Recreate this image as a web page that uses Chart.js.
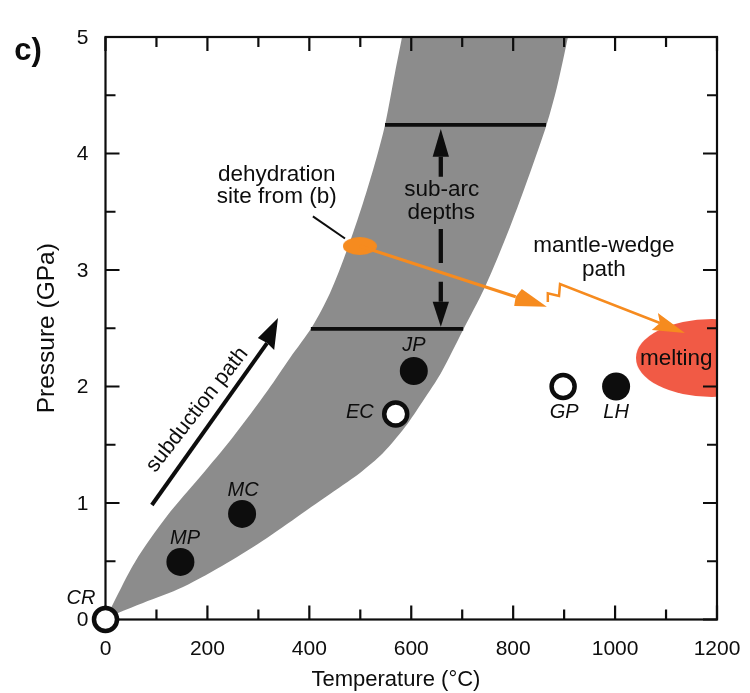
<!DOCTYPE html>
<html>
<head>
  <meta charset="UTF-8" />
  <title>Subduction path</title>
  <script src="https://cdn.jsdelivr.net/npm/chart.js"></script>
  <style>
    html, body { margin: 0; padding: 0; background: #fff; }
    canvas { display: block; }
  </style>
</head>
<body>
  <canvas id="PathChart" width="750" height="693"></canvas>

  <script>
    // everything below is [temperature, pressure]
    // the band runs a little past 5 GPa so its top corners fall outside the plot
    const band_left = [[0,0],[14.7,0.133],[57.9,0.494],[120.7,0.888],[185.4,1.223],[250.2,1.567],[318.9,1.97],[362,2.245],[405.2,2.511],[440.6,2.803],[473.9,3.172],[505.3,3.575],[528.9,3.918],[548.5,4.245],[568,4.691],[581.9,5],[585.8,5.103]];
    const band_right = [[912.5,5.103],[907.6,5],[886,4.571],[865.4,4.245],[833,3.833],[793.8,3.369],[744.7,2.854],[701.6,2.485],[658.4,2.116],[623,1.876],[587.8,1.652],[544.6,1.429],[499.4,1.258],[466,1.155],[395.4,0.94],[316.9,0.7],[238.4,0.485],[152.1,0.279],[73.6,0.142],[24.5,0.056],[0,0]];

    const filled_sites = [[147,0.494],[268,0.906],[605,2.133],[1002,2.0]];
    const open_sites = [[0,0],[569.5,1.764],[898,2.0]];
    const dehydration_site = [[499,3.206]];
    const melting_zone = [[1190,2.245]];

    const subarc_low = [[403,2.494],[702,2.494]];
    const subarc_high = [[548.5,4.245],[864.5,4.245]];

    const subarc_stem_a = [[658,3.973],[658,3.8]];
    const subarc_stem_b = [[658,3.352],[658,3.06]];
    const subarc_stem_c = [[658,2.9],[658,2.728]];
    const subarc_head_up = [[642,3.973],[674,3.973],[658,4.21]];
    const subarc_head_down = [[642,2.728],[674,2.728],[658,2.513]];

    const subduction_stem = [[91,0.983],[317,2.373]];
    const subduction_head = [[338.5,2.588],[299,2.416],[317,2.373],[331,2.313]];

    const leader_line = [[407,3.46],[470,3.27]];
    const orange_path_a = [[499,3.206],[805,2.77]];
    const orange_head_a = [[866,2.685],[817,2.837],[805,2.77],[802,2.69]];
    const orange_path_b = [[868,2.725],[868,2.8],[890,2.777],[892,2.88],[1088,2.545]];
    const orange_head_b = [[1137,2.459],[1084,2.631],[1088,2.545],[1072,2.485]];

    const x_title = 'Temperature (°C)';
    const y_title = 'Pressure (GPa)';

    const ink = '#0d0d0d';
    const orange = '#f68b1f';
    const font_name = '"Liberation Sans", Arial, sans-serif';

    function to_xy(points) {
      return points.map(p => ({ x: p[0], y: p[1] }));
    }

    function line_set(points, color, width) {
      return { data: to_xy(points), showLine: true, borderColor: color, borderWidth: width, pointRadius: 0, fill: false };
    }

    function shape_set(points, color, tension) {
      return {
        data: to_xy(points), showLine: true, borderWidth: 0, borderColor: color, backgroundColor: color,
        pointRadius: 0, fill: 'shape', tension: tension || 0,
      };
    }

    function ellipse_style(rx, ry, color) {
      const c = document.createElement('canvas');
      c.width = rx * 2;
      c.height = ry * 2;
      const g = c.getContext('2d');
      g.fillStyle = color;
      g.beginPath();
      g.ellipse(rx, ry, rx, ry, 0, 0, Math.PI * 2);
      g.fill();
      return c;
    }

    function ellipse_set(points, rx, ry, color) {
      return { data: to_xy(points), showLine: false, pointRadius: 1, pointStyle: ellipse_style(rx, ry, color) };
    }

    // notes sit in data coordinates, so they follow the axes
    const notes = [
      { text: 'dehydration', x: 336, y: 3.815, size: 22.5 },
      { text: 'site from (b)', x: 336, y: 3.627, size: 22.5 },
      { text: 'sub-arc', x: 660, y: 3.69, size: 22.5 },
      { text: 'depths', x: 659, y: 3.49, size: 22.5 },
      { text: 'mantle-wedge', x: 978, y: 3.206, size: 22.5 },
      { text: 'path', x: 978, y: 3.0, size: 22.5 },
      { text: 'melting', x: 1120, y: 2.236, size: 22.5 },
      { text: 'subduction path', x: 180, y: 1.8, size: 21.5, angle: -52 },
      { text: 'CR', x: -48, y: 0.185, size: 20, italic: true },
      { text: 'MP', x: 156, y: 0.7, size: 20, italic: true },
      { text: 'MC', x: 270, y: 1.11, size: 20, italic: true },
      { text: 'JP', x: 605, y: 2.356, size: 20, italic: true },
      { text: 'EC', x: 499, y: 1.78, size: 20, italic: true },
      { text: 'GP', x: 900, y: 1.78, size: 20, italic: true },
      { text: 'LH', x: 1002, y: 1.78, size: 20, italic: true },
    ];

    const datasets = [
      // first in the list is drawn on top
      { data: to_xy(open_sites), pointRadius: 11.5, pointBorderWidth: 4.5, pointBorderColor: ink, pointBackgroundColor: '#ffffff', clip: false },
      { data: to_xy(filled_sites), pointRadius: 14, pointBorderWidth: 0, pointBackgroundColor: ink },
      shape_set(orange_head_b, orange),
      shape_set(orange_head_a, orange),
      line_set(orange_path_b, orange, 2.5),
      line_set(orange_path_a, orange, 3),
      ellipse_set(dehydration_site, 17, 9, orange),
      line_set(leader_line, ink, 2),
      shape_set(subduction_head, ink),
      line_set(subduction_stem, ink, 4),
      shape_set(subarc_head_down, ink),
      shape_set(subarc_head_up, ink),
      line_set(subarc_stem_c, ink, 4.3),
      line_set(subarc_stem_b, ink, 4.3),
      line_set(subarc_stem_a, ink, 4.3),
      line_set(subarc_high, ink, 3.8),
      line_set(subarc_low, ink, 3.8),
      ellipse_set(melting_zone, 76, 39, '#f15a45'),
      shape_set(band_left.concat(band_right), '#8c8c8c', 0.3),
    ];
    const frame_after = datasets.length - 2;

    function draw_frame(chart) {
      const { ctx, chartArea: a, scales } = chart;
      ctx.save();
      ctx.strokeStyle = ink;
      ctx.lineWidth = 2.2;
      ctx.strokeRect(a.left, a.top, a.right - a.left, a.bottom - a.top);
      scales.x.ticks.forEach(t => {
        const px = scales.x.getPixelForValue(t.value);
        const len = t.value % 200 === 0 ? 14 : 10;
        ctx.beginPath();
        ctx.moveTo(px, a.bottom); ctx.lineTo(px, a.bottom - len);
        ctx.moveTo(px, a.top); ctx.lineTo(px, a.top + len);
        ctx.stroke();
      });
      scales.y.ticks.forEach(t => {
        const py = scales.y.getPixelForValue(t.value);
        const len = t.value % 1 === 0 ? 14 : 10;
        ctx.beginPath();
        ctx.moveTo(a.left, py); ctx.lineTo(a.left + len, py);
        ctx.moveTo(a.right, py); ctx.lineTo(a.right - len, py);
        ctx.stroke();
      });
      ctx.restore();
    }

    const annotate = {
      id: 'annotate',
      afterDatasetDraw(chart, args) {
        if (args.index === frame_after) draw_frame(chart);
      },
      afterDatasetsDraw(chart) {
        const { ctx, scales } = chart;
        ctx.save();
        ctx.fillStyle = ink;
        ctx.textAlign = 'center';
        ctx.textBaseline = 'middle';
        notes.forEach(n => {
          ctx.save();
          ctx.translate(scales.x.getPixelForValue(n.x), scales.y.getPixelForValue(n.y));
          if (n.angle) ctx.rotate(n.angle * Math.PI / 180);
          ctx.font = (n.italic ? 'italic ' : '') + n.size + 'px ' + font_name;
          ctx.fillText(n.text, 0, 0);
          ctx.restore();
        });
        ctx.font = 'bold 31px ' + font_name;
        ctx.fillText('c)', 28, 51);
        ctx.restore();
      },
    };

    new Chart(document.getElementById('PathChart').getContext('2d'), {
      type: 'scatter',
      data: { datasets: datasets },
      plugins: [annotate],
      options: {
        responsive: false,
        animation: false,
        events: [],
        layout: { padding: { top: 37, right: 33, left: 0, bottom: 0 } },
        plugins: { legend: { display: false }, tooltip: { enabled: false } },
        scales: {
          x: {
            min: 0, max: 1200,
            afterFit: s => { s.height = 73.5; s.paddingLeft = 0; s.paddingRight = 0; },
            grid: { display: false, drawTicks: false },
            border: { display: false },
            // the title sits left of the axis centre in the original, the trailing spaces shift it
            title: { display: true, text: x_title + '\u00a0'.repeat(5), color: ink, font: { family: font_name, size: 22 }, padding: { top: 7, bottom: 0 } },
            ticks: {
              stepSize: 100, autoSkip: false, maxRotation: 0, padding: 17, color: ink,
              font: { family: font_name, size: 21 },
              callback: v => (v % 200 === 0 ? String(v) : ''),
            },
          },
          y: {
            min: 0, max: 5,
            afterFit: s => { s.width = 105.5; s.paddingTop = 0; s.paddingBottom = 0; },
            grid: { display: false, drawTicks: false },
            border: { display: false },
            title: { display: true, text: y_title, color: ink, font: { family: font_name, size: 24.5 }, padding: { top: 33, bottom: 0 } },
            ticks: {
              stepSize: 0.5, autoSkip: false, padding: 17, color: ink, labelOffset: 1,
              font: { family: font_name, size: 21 },
              callback: v => (v % 1 === 0 ? String(v) : ''),
            },
          },
        },
      },
    });
  </script>
</body>
</html>
